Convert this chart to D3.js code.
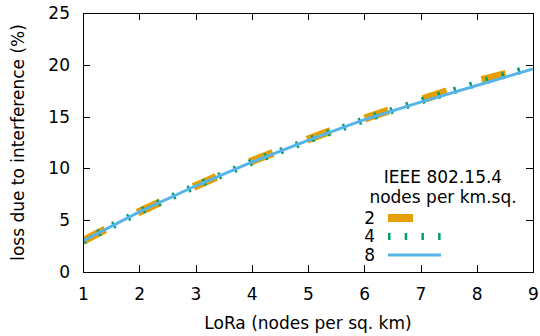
<!DOCTYPE html>
<html>
  <head>
    <meta charset="utf-8">
    <style type="text/css">
      body { margin: 0; background: #fff; }
      text { font-family: "DejaVu Sans", sans-serif; font-size: 17px; fill: #000; }
      .axis path, .axis line { fill: none; stroke: #000; stroke-width: 1; shape-rendering: crispEdges; }
      path.line { fill: none; }
    </style>
  </head>
  <body>
    <div id="main"></div>
    <script src="https://d3js.org/d3.v7.min.js"></script>
    <script>
    // loRa node density on the x axis
    var nodes = [1, 2, 3, 4, 5, 6, 7, 8, 9];
    // loss (%) for each IEEE 802.15.4 density
    var loss2 = [3.0, 5.8, 8.3, 10.7, 12.8, 14.8, 16.6, 18.4, 19.8];
    var loss4 = [3.0, 5.8, 8.3, 10.6, 12.7, 14.7, 16.5, 18.2, 19.8];
    var loss8 = [3.0, 5.8, 8.3, 10.6, 12.7, 14.7, 16.4, 18.0, 19.6];
    var seriesNames = ["2", "4", "8"];
    var xTicks = [1, 2, 3, 4, 5, 6, 7, 8, 9];
    var yTicks = [0, 5, 10, 15, 20, 25];

    var margin = {top: 13, right: 7, bottom: 64, left: 83},
        width = 540 - margin.left - margin.right,
        height = 336 - margin.top - margin.bottom;

    var styles = [
      {color: "#e69f00", width: 8, dash: "25,36.5"},
      {color: "#009e73", width: 7, dash: "2.5,14.2"},
      {color: "#56b4e9", width: 3, dash: null}
    ];
    var series = [loss2, loss4, loss8];

    var x = d3.scaleLinear().domain([1, 9]).range([0, width]);
    var y = d3.scaleLinear().domain([0, 25]).range([height, 0]);

    var svg = d3.select("#main").append("svg")
        .attr("width", 540)
        .attr("height", 336)
      .append("g")
        .attr("transform", "translate(" + margin.left + "," + margin.top + ")");

    svg.append("defs").append("clipPath").attr("id", "clip")
      .append("rect").attr("width", width).attr("height", height);

    var valueline = d3.line()
        .x(function(d, i) { return x(nodes[i]); })
        .y(function(d) { return y(d); });

    series.forEach(function(s, i) {
      svg.append("path")
        .attr("class", "line")
        .attr("clip-path", "url(#clip)")
        .attr("stroke", styles[i].color)
        .attr("stroke-width", styles[i].width)
        .attr("stroke-dasharray", styles[i].dash)
        .attr("d", valueline(s));
    });

    // axes with inward ticks, mirrored on top and right
    svg.append("g").attr("class", "axis")
        .attr("transform", "translate(0," + height + ")")
        .call(d3.axisBottom(x).tickValues(xTicks).tickSizeInner(-7).tickSizeOuter(0).tickPadding(16));
    svg.append("g").attr("class", "axis")
        .call(d3.axisTop(x).tickValues(xTicks).tickSizeInner(-7).tickSizeOuter(0).tickFormat(""));
    svg.append("g").attr("class", "axis")
        .call(d3.axisLeft(y).tickValues(yTicks).tickSizeInner(-7).tickSizeOuter(0).tickPadding(13));
    svg.append("g").attr("class", "axis")
        .attr("transform", "translate(" + width + ",0)")
        .call(d3.axisRight(y).tickValues(yTicks).tickSizeInner(-7).tickSizeOuter(0).tickFormat(""));
    svg.selectAll(".axis text").style("font-size", "17px").attr("font-family", null);

    svg.append("text")
        .attr("x", width / 2)
        .attr("y", height + 57)
        .attr("text-anchor", "middle")
        .text("LoRa (nodes per sq. km)");

    svg.append("text")
        .attr("transform", "translate(" + (-59) + "," + (height / 2) + ") rotate(-90)")
        .attr("text-anchor", "middle")
        .text("loss due to interference (%)");

    // legend
    var legend = svg.append("g").attr("transform", "translate(" + (443 - margin.left) + "," + (177 - margin.top) + ")");
    legend.append("text").attr("text-anchor", "middle").attr("dy", "0.35em").text("IEEE 802.15.4");
    legend.append("text").attr("text-anchor", "middle").attr("y", 20).attr("dy", "0.35em").text("nodes per km.sq.");
    seriesNames.forEach(function(name, i) {
      var yy = 41 + i * 18.5;
      legend.append("text").attr("x", -68).attr("y", yy).attr("dy", "0.35em")
        .attr("text-anchor", "end").text(name);
      legend.append("line")
        .attr("x1", -55).attr("x2", -2).attr("y1", yy).attr("y2", yy)
        .attr("stroke", styles[i].color)
        .attr("stroke-width", styles[i].width)
        .attr("stroke-dasharray", styles[i].dash);
    });
    </script>
  </body>
</html>
